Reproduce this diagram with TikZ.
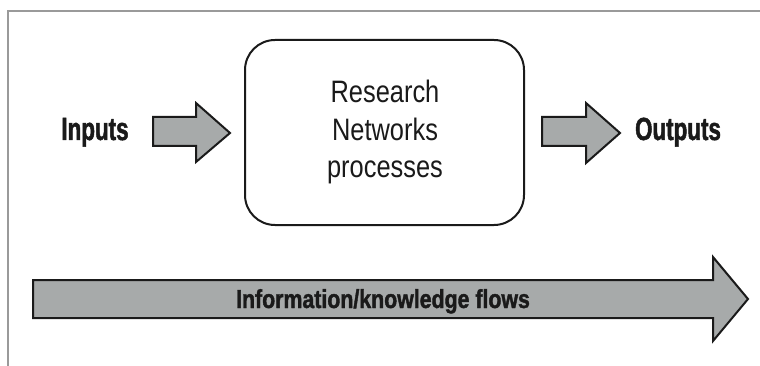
\documentclass[tikz,border=0pt]{standalone}
\usepackage{fontspec}
\newfontfamily\condreg[FakeStretch=0.82]{Liberation Sans}
\newfontfamily\condbold[FakeStretch=0.7,FakeBold=1.5]{Liberation Sans Bold}
\newfontfamily\condboldb[FakeStretch=0.82,FakeBold=1.5]{Liberation Sans Bold}
\definecolor{arrowgray}{HTML}{A7AAAA}
\definecolor{framegray}{HTML}{9A9A9A}
\definecolor{inkblack}{HTML}{1A1A1A}
\tikzset{
  fatarrow/.style={draw=inkblack, line width=2pt, fill=arrowgray, line join=miter},
  framerule/.style={draw=framegray, line width=1.5pt},
  procbox/.style={draw=inkblack, line width=2pt, rounded corners=30pt},
  sidelabel/.style={font=\condbold\fontsize{32}{32}\selectfont, text=inkblack, anchor=base, inner sep=0pt},
  flowlabel/.style={font=\condboldb\fontsize{26}{26}\selectfont, text=inkblack, anchor=base, inner sep=0pt},
  proclabel/.style={font=\condreg\fontsize{31}{37.5}\selectfont, text=inkblack, align=center, inner sep=0pt}
}
\begin{document}
\begin{tikzpicture}[x=1pt,y=-1pt]
\useasboundingbox (0,0) rectangle (760,366);
% frame
\draw[framerule] (8,380) -- (8,11) -- (780,11);
% process box
\draw[procbox] (245,40) rectangle (524,225);
\node[proclabel] (proc) at (385,132) {Research\\Networks\\processes};
% input arrow
\draw[fatarrow] (153,117) -- (196,117) -- (196,103) -- (230,133) -- (196,162) -- (196,146) -- (153,146) -- cycle;
% output arrow
\draw[fatarrow] (542,117) -- (586,117) -- (586,103) -- (620,133) -- (586,163) -- (586,146) -- (542,146) -- cycle;
% flow arrow
\draw[fatarrow] (33,280) -- (713,280) -- (713,257) -- (748,299) -- (713,341) -- (713,318) -- (33,318) -- cycle;
\node[sidelabel] (in) at (95,140) {Inputs};
\node[sidelabel] (out) at (678,140) {Outputs};
\node[flowlabel] (flow) at (383,308) {Information/knowledge flows};
\end{tikzpicture}
\end{document}
